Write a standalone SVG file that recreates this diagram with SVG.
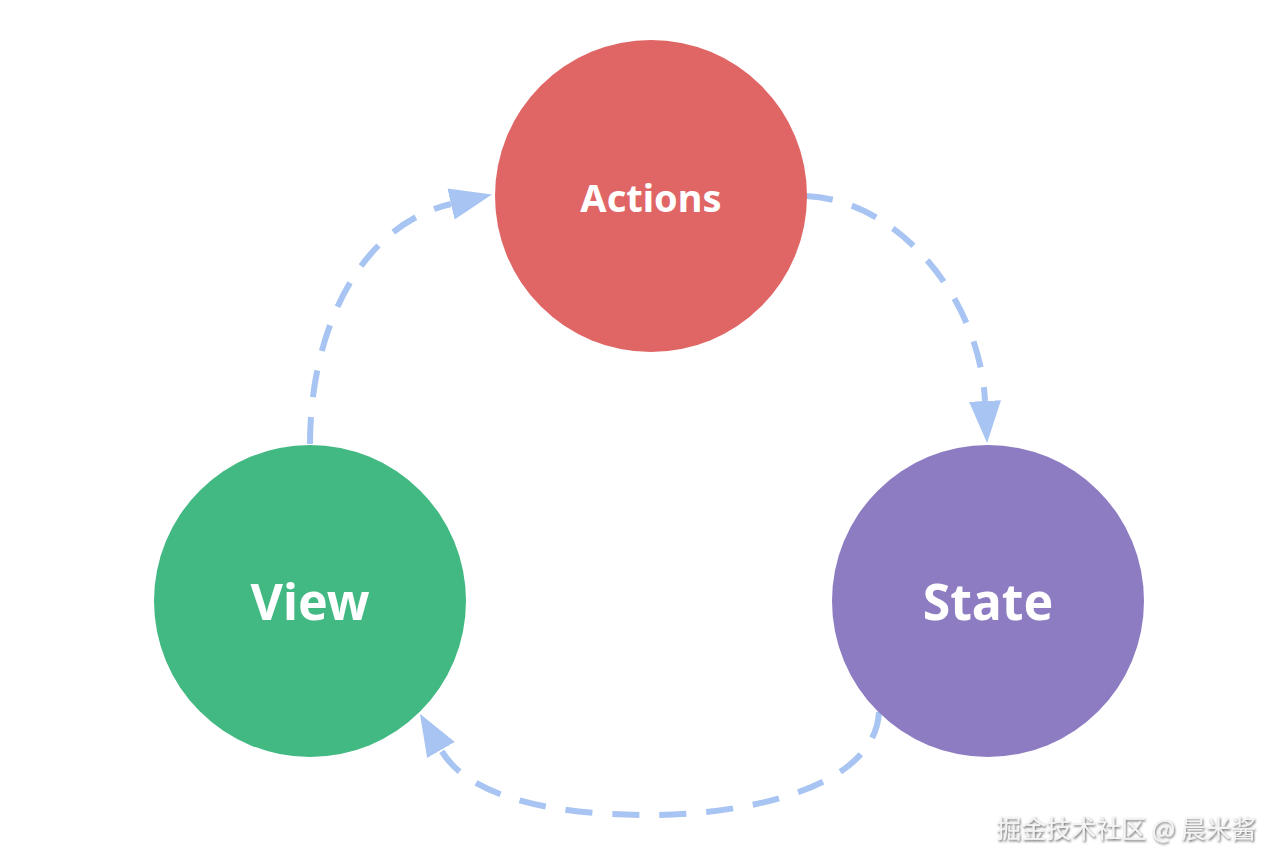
<svg xmlns="http://www.w3.org/2000/svg" width="1280" height="866" viewBox="0 0 1280 866">
<style>
.lbl{font-family:"Noto Sans","Liberation Sans",sans-serif;font-weight:bold;fill:#ffffff;text-anchor:middle}
.conn{fill:none;stroke:#a7c4f2;stroke-width:6;stroke-dasharray:27 20}
.wm{font-family:"Noto Sans CJK SC","Noto Sans",sans-serif;font-size:25px;fill:#f4f4f4;text-anchor:end}
</style>
<defs>
<marker id="arr" markerUnits="userSpaceOnUse" markerWidth="44" markerHeight="34" refX="0" refY="16" orient="auto">
<path d="M0,0 L42,16 L0,32 z" fill="#a7c4f2"/>
</marker>
<filter id="sh" x="-10%" y="-30%" width="120%" height="160%">
<feDropShadow dx="1" dy="1.5" stdDeviation="1" flood-color="#555" flood-opacity="0.9"/>
</filter>
</defs>
<rect width="1280" height="866" fill="#ffffff"/>
<g id="connectors">
<path class="conn" d="M310,444 C310,330 360,225 451,204" marker-end="url(#arr)"/>
<path class="conn" d="M806,196 C900,200 980,300 985,401" marker-end="url(#arr)"/>
<path class="conn" d="M879,712 C875,790 740,815 650,815 C560,815 470,800 441,750" marker-end="url(#arr)"/>
</g>
<g id="actions">
<circle cx="651" cy="196" r="156" fill="#e06666"/>
<text class="lbl" x="651" y="212" font-size="38">Actions</text>
</g>
<g id="view">
<circle cx="310" cy="601" r="156" fill="#42b983"/>
<text class="lbl" x="310" y="620" font-size="50">View</text>
</g>
<g id="state">
<circle cx="988" cy="601" r="156" fill="#8e7cc3"/>
<text class="lbl" x="988" y="620" font-size="50">State</text>
</g>
<text class="wm" x="1256" y="838" filter="url(#sh)">掘金技术社区 @ 晨米酱</text>
</svg>
